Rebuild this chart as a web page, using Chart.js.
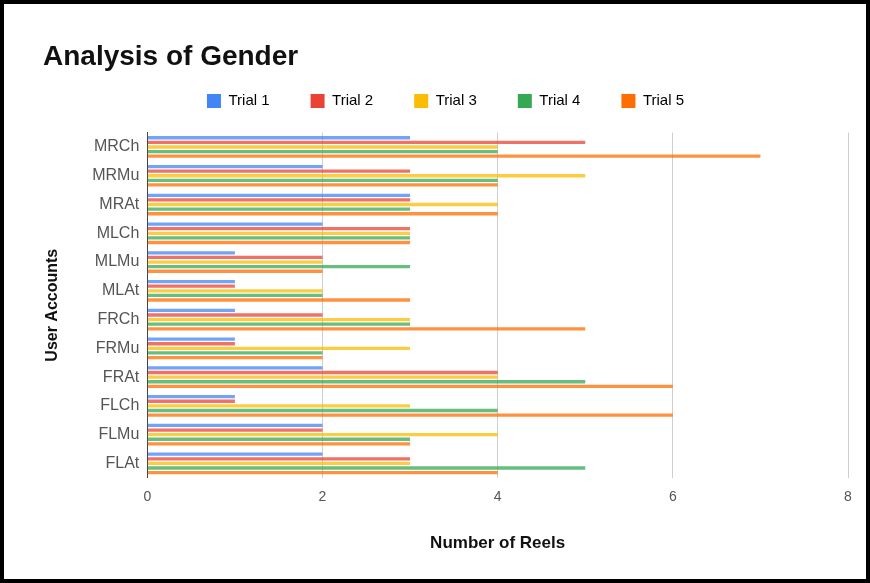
<!DOCTYPE html>
<html>
<head>
<meta charset="utf-8">
<script src="https://cdn.jsdelivr.net/npm/chart.js@4"></script>
<style>
  html, body { margin: 0; padding: 0; background: #fff; }
  #wrap { position: absolute; left: 0; top: 0; width: 862px; height: 575px; border: 4px solid #000; background: #fff; }
</style>
</head>
<body>
<div id="wrap"><canvas id="bars" width="862" height="575"></canvas></div>
<script>
const accounts = ['MRCh', 'MRMu', 'MRAt', 'MLCh', 'MLMu', 'MLAt', 'FRCh', 'FRMu', 'FRAt', 'FLCh', 'FLMu', 'FLAt'];
const trial1 = [3, 2, 3, 2, 1, 1, 1, 1, 2, 1, 2, 2];
const trial2 = [5, 3, 3, 3, 2, 1, 2, 1, 4, 1, 2, 3];
const trial3 = [4, 5, 4, 3, 2, 2, 3, 3, 4, 3, 4, 3];
const trial4 = [4, 4, 3, 3, 3, 2, 3, 2, 5, 4, 3, 5];
const trial5 = [7, 4, 4, 3, 2, 3, 5, 2, 6, 6, 3, 4];
const xTicks = [0, 2, 4, 6, 8];

const fontFam = "'Liberation Sans', Arial, sans-serif";

// legend needs wide gaps between items but not the extra height that comes with them
const legendFit = {
  id: 'legendFit',
  beforeInit(chart) {
    const fit = chart.legend.fit;
    chart.legend.fit = function () {
      fit.call(this);
      this.height = 80;
    };
  }
};

const ctx = document.getElementById('bars');
new Chart(ctx, {
  type: 'bar',
  data: {
    labels: accounts,
    datasets: [
      { label: 'Trial 1', data: trial1, backgroundColor: 'rgba(66,133,244,0.75)' },
      { label: 'Trial 2', data: trial2, backgroundColor: 'rgba(234,67,53,0.75)' },
      { label: 'Trial 3', data: trial3, backgroundColor: 'rgba(251,188,4,0.75)' },
      { label: 'Trial 4', data: trial4, backgroundColor: 'rgba(52,168,83,0.75)' },
      { label: 'Trial 5', data: trial5, backgroundColor: 'rgba(255,109,1,0.75)' }
    ]
  },
  plugins: [legendFit],
  options: {
    indexAxis: 'y',
    responsive: false,
    animation: false,
    layout: { padding: { left: 39, right: 18, top: 36, bottom: 25 } },
    datasets: {
      bar: { categoryPercentage: 0.8, barPercentage: 0.72 }
    },
    plugins: {
      title: {
        display: true,
        text: 'Analysis of Gender',
        align: 'start',
        color: '#111',
        font: { family: fontFam, size: 28, weight: 'bold' },
        padding: { top: 0, bottom: -21 }
      },
      legend: {
        position: 'top',
        labels: {
          boxWidth: 14,
          boxHeight: 14,
          padding: 41,
          color: '#555',
          font: { family: fontFam, size: 15 },
          generateLabels: (chart) => chart.data.datasets.map((ds, i) => ({
            text: ds.label,
            fillStyle: ds.backgroundColor.replace(/,0\.75\)/, ',1)'),
            strokeStyle: 'rgba(0,0,0,0)',
            lineWidth: 0,
            hidden: false,
            datasetIndex: i
          }))
        }
      },
      tooltip: { enabled: false }
    },
    scales: {
      x: {
        min: 0,
        max: 8,
        afterBuildTicks: (axis) => { axis.ticks = xTicks.map(v => ({ value: v })); },
        grid: { color: '#cfcfcf', drawTicks: false },
        border: { display: false },
        ticks: { color: '#555', padding: 11, font: { family: fontFam, size: 14 } },
        title: {
          display: true,
          text: 'Number of Reels',
          color: '#111',
          padding: { top: 17, bottom: 0 },
          font: { family: fontFam, size: 17, weight: 'bold' }
        }
      },
      y: {
        grid: { display: false, drawTicks: false },
        border: { display: true, color: '#444', width: 1 },
        ticks: { color: '#555', padding: 8, font: { family: fontFam, size: 16 } },
        title: {
          display: true,
          text: 'User Accounts',
          color: '#111',
          padding: { top: 0, bottom: 22 },
          font: { family: fontFam, size: 16, weight: 'bold' }
        }
      }
    }
  }
});
</script>
</body>
</html>
